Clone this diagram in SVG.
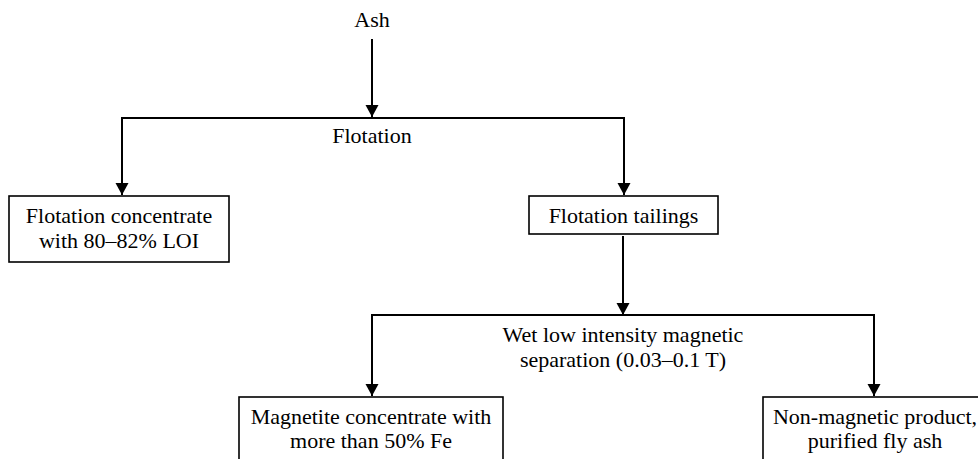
<svg xmlns="http://www.w3.org/2000/svg" width="978" height="459" viewBox="0 0 978 459">
<style>
text{font-family:'Liberation Serif','DejaVu Serif',serif;font-size:22px;fill:#000;text-anchor:middle}
.b{fill:#fff;stroke:#000;stroke-width:1.6}
.c{fill:none;stroke:#000;stroke-width:2}
</style>
<defs>
<marker id="ah" markerUnits="userSpaceOnUse" markerWidth="14" markerHeight="14" viewBox="0 0 14 14" refX="12" refY="7" orient="auto">
<path d="M0,0.5 L12,7 L0,13.5 Z" fill="#000"/>
</marker>
</defs>
<g id="connectors">
<line class="c" x1="372" y1="39" x2="372" y2="117" marker-end="url(#ah)"/>
<line class="c" x1="121" y1="118" x2="625" y2="118"/>
<line class="c" x1="122" y1="118" x2="122" y2="195" marker-end="url(#ah)"/>
<line class="c" x1="624" y1="118" x2="624" y2="195" marker-end="url(#ah)"/>
<line class="c" x1="623" y1="236" x2="623" y2="315" marker-end="url(#ah)"/>
<line class="c" x1="371" y1="315" x2="875" y2="315"/>
<line class="c" x1="372" y1="315" x2="372" y2="396" marker-end="url(#ah)"/>
<line class="c" x1="874" y1="315" x2="874" y2="396" marker-end="url(#ah)"/>
</g>
<g id="ash"><text x="372" y="27">Ash</text></g>
<g id="flotation"><text x="372" y="143">Flotation</text></g>
<g id="concentrate">
<rect class="b" x="9" y="196" width="220" height="66"/>
<text x="119" y="223">Flotation concentrate</text>
<text x="119" y="248">with 80–82% LOI</text>
</g>
<g id="tailings">
<rect class="b" x="529" y="196" width="189" height="38"/>
<text x="623.5" y="223">Flotation tailings</text>
</g>
<g id="magsep">
<text x="623" y="342">Wet low intensity magnetic</text>
<text x="623" y="367">separation (0.03–0.1 T)</text>
</g>
<g id="magnetite">
<rect class="b" x="239" y="397" width="264" height="80"/>
<text x="371" y="424">Magnetite concentrate with</text>
<text x="371" y="448">more than 50% Fe</text>
</g>
<g id="nonmagnetic">
<rect class="b" x="763" y="397" width="230" height="80"/>
<text x="875" y="424">Non-magnetic product,</text>
<text x="875" y="448">purified fly ash</text>
</g>
</svg>
